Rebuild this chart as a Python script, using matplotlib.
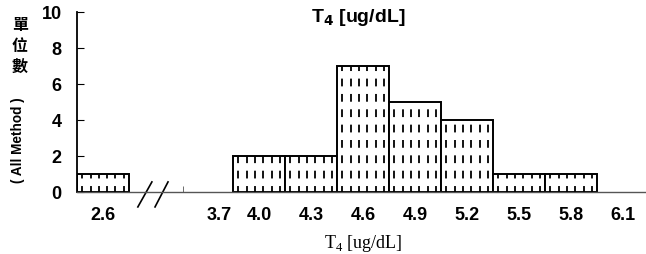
import matplotlib
matplotlib.use("Agg")
import matplotlib.pyplot as plt
import numpy as np

# histogram of T4 results (all methods)
bin_labels = ['2.6', '3.7', '4.0', '4.3', '4.6', '4.9', '5.2', '5.5', '5.8', '6.1']
bin_pos = [0.5, 2.73, 3.5, 4.5, 5.5, 6.5, 7.5, 8.5, 9.5, 10.5]
counts = [1, 0, 2, 2, 7, 5, 4, 1, 1, 0]

plt.rcParams['font.family'] = ['Liberation Sans', 'DejaVu Sans']

fig = plt.figure(figsize=(6.46, 2.55), dpi=100)
ax = fig.add_axes([77 / 646, 1 - 193 / 255, 1 - 77 / 646, 180 / 255])

for p, c in zip(bin_pos, counts):
    if c <= 0:
        continue
    bar = ax.bar(p, c, width=1.0, color='white', edgecolor='black', linewidth=1.4, zorder=2)[0]
    # dashed vertical fill pattern
    xs = np.arange(p - 0.40, p + 0.45, 0.16)
    lines = ax.vlines(xs, 0, c, colors='black', linestyles=(1, (4.3, 4.2)), linewidth=1.3, zorder=3)
    lines.set_clip_path(bar)

ax.set_xlim(0, 10.94)
ax.set_ylim(0, 10)
ax.set_yticks([0, 2, 4, 6, 8, 10])
ax.set_xticks(bin_pos)
ax.set_xticklabels(bin_labels)
ax.set_xticks([2.04], minor=True)
ax.tick_params(axis='x', which='major', length=0, pad=10, labelsize=13)
ax.tick_params(axis='x', which='minor', direction='in', length=4, color='#555555')
ax.tick_params(axis='y', direction='in', length=5, labelsize=13, pad=11)
for lab in ax.get_xticklabels() + ax.get_yticklabels():
    lab.set_fontweight('bold')

ax.spines['top'].set_visible(False)
ax.spines['right'].set_visible(False)
ax.spines['left'].set_linewidth(1.3)
ax.spines['bottom'].set_color('#555555')
ax.spines['bottom'].set_linewidth(1.0)

# axis break marks
ax.plot([1.17, 1.44], [-0.83, 0.56], color='black', lw=1.2, clip_on=False)
ax.plot([1.50, 1.75], [-0.83, 0.56], color='black', lw=1.2, clip_on=False)

fig.text(358 / 646, 1 - 18 / 255, r'T$_{\mathbf{4}}$ [ug/dL]', ha='center', va='center',
         fontsize=14, fontweight='bold')
fig.text(20 / 646, 1 - 46 / 255, '單\n位\n數', ha='center', va='center', fontsize=11.5,
         fontweight='bold', family=['Noto Sans CJK TC', 'DejaVu Sans'], linespacing=1.4)
fig.text(18 / 646, 1 - 140 / 255, '( All Method )', ha='center', va='center', rotation=90,
         fontsize=9.8, fontweight='bold')
fig.text(363 / 646, 1 - 244 / 255, r'T$_\mathregular{4}$ [ug/dL]', ha='center', va='center',
         fontsize=13, family='Liberation Serif')

fig.savefig('out.png', dpi=100)
